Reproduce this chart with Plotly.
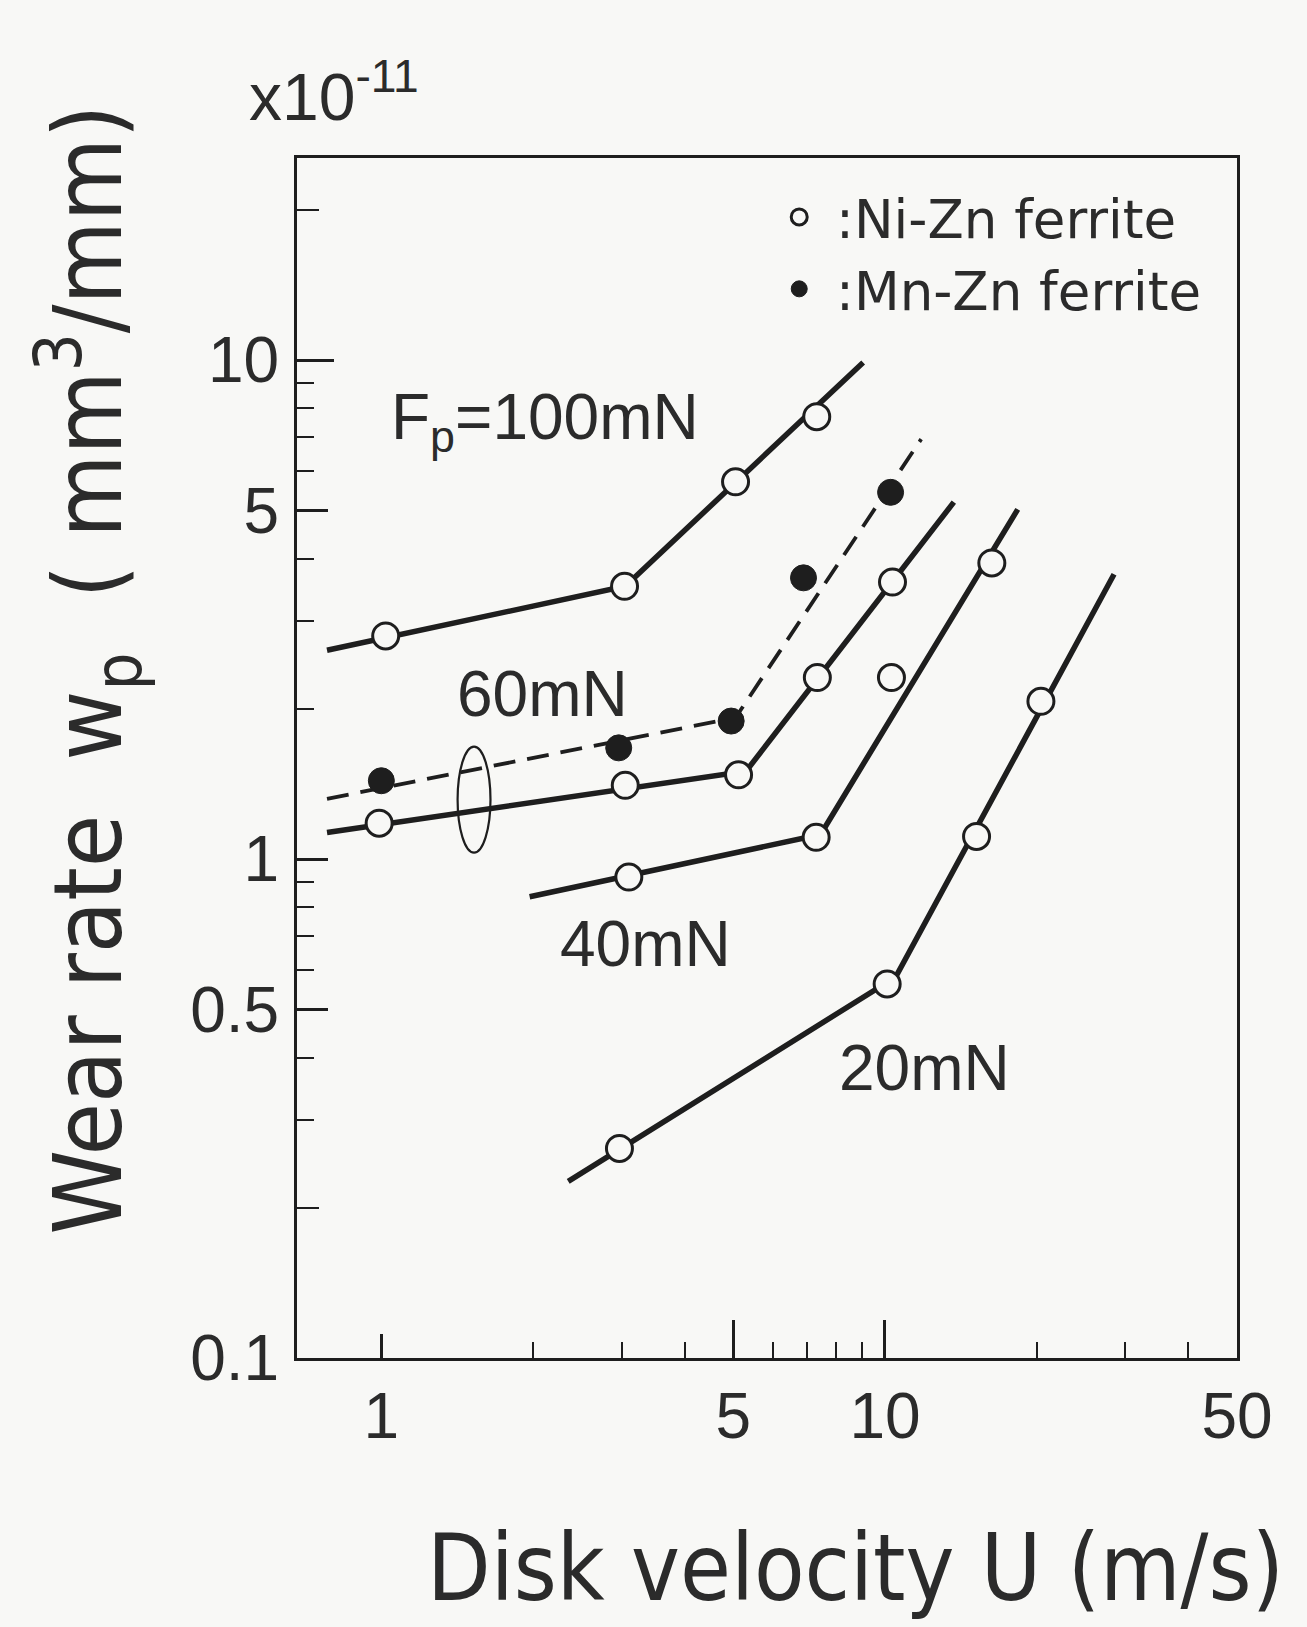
import math
import plotly.graph_objects as go

# ---------------- data ----------------
# fitted guide lines (vertices of the drawn polylines)
line100_x = [0.78, 3.05, 9.05]
line100_y = [2.62, 3.52, 9.89]
line60mn_x = [0.78, 5.05, 11.8]
line60mn_y = [1.32, 1.92, 6.94]
line60ni_x = [0.78, 5.3, 13.7]
line60ni_y = [1.13, 1.50, 5.19]
line40_x = [1.97, 7.45, 18.35]
line40_y = [0.84, 1.12, 5.02]
line20_x = [2.35, 10.5, 28.5]
line20_y = [0.226, 0.58, 3.72]

# measured points
ni100_x = [1.02, 3.04, 5.05, 7.32]
ni100_y = [2.80, 3.52, 5.70, 7.70]
mn60_x = [1.0, 2.96, 4.95, 6.89, 10.26]
mn60_y = [1.435, 1.67, 1.89, 3.66, 5.43]
ni60_x = [0.99, 3.05, 5.12, 7.34, 10.35]
ni60_y = [1.18, 1.405, 1.475, 2.31, 3.59]
ni40_x = [3.10, 7.30, 10.3, 16.3]
ni40_y = [0.92, 1.105, 2.31, 3.92]
ni20_x = [2.97, 10.1, 15.2, 20.4]
ni20_y = [0.263, 0.562, 1.11, 2.07]

# load labels: text, x, y
load_labels = ["F<sub>p</sub>=100mN", "60mN", "40mN", "20mN"]
load_label_x = [2.11, 2.09, 3.34, 11.98]
load_label_y = [7.55, 2.14, 0.676, 0.381]

# ellipse grouping the two 60 mN curves (x0, x1, y0, y1)
ellipse_x = [1.417, 1.647]
ellipse_y = [1.03, 1.68]

# axis ticks
x_major = [1, 5, 10, 50]
x_major_text = ["1", "5", "10", "50"]
x_long = [5, 10]
x_minor = [2, 3, 4, 6, 7, 8, 9, 20, 30, 40]
y_major = [0.1, 0.5, 1, 5, 10]
y_major_text = ["0.1", "0.5", "1", "5", "10"]
y_long = [10]
y_mid = [0.2, 20]
y_minor = [0.2, 0.3, 0.4, 0.6, 0.7, 0.8, 0.9, 2, 3, 4, 6, 7, 8, 9, 20]

x_range = [0.68, 50]
y_range = [0.1, 25.4]

# ---------------- styling ----------------
INK = "#1e1e1e"
TXT = "#2b2b2b"
BG = "#f8f8f6"
NARROW = "DejaVu Sans Condensed, Liberation Sans, sans-serif"
SANS = "Liberation Sans, Arial, sans-serif"
WIDE = "DejaVu Sans, Liberation Sans, sans-serif"

fig = go.Figure()

solid = dict(color=INK, width=5.5)
for lx, ly in [(line100_x, line100_y), (line60ni_x, line60ni_y),
               (line40_x, line40_y), (line20_x, line20_y)]:
    fig.add_trace(go.Scatter(x=lx, y=ly, mode="lines", line=solid,
                             showlegend=False, hoverinfo="skip"))
fig.add_trace(go.Scatter(x=line60mn_x, y=line60mn_y, mode="lines",
                         line=dict(color=INK, width=3.8, dash="22px,12px"),
                         showlegend=False, hoverinfo="skip"))

open_marker = dict(symbol="circle", size=26, color=BG, line=dict(color=INK, width=3))
first = True
for px, py in [(ni100_x, ni100_y), (ni60_x, ni60_y), (ni40_x, ni40_y), (ni20_x, ni20_y)]:
    fig.add_trace(go.Scatter(x=px, y=py, mode="markers", marker=open_marker,
                             name=" :Ni-Zn ferrite", legendgroup="ni",
                             showlegend=first))
    first = False
fig.add_trace(go.Scatter(x=mn60_x, y=mn60_y, mode="markers",
                         marker=dict(symbol="circle", size=26, color=INK,
                                     line=dict(color=INK, width=1)),
                         name=" :Mn-Zn ferrite", legendgroup="mn", showlegend=True))

# invisible traces to activate the overlay axes used for longer ticks
fig.add_trace(go.Scatter(x=[None], y=[None], xaxis="x2", yaxis="y2",
                         showlegend=False, hoverinfo="skip"))
fig.add_trace(go.Scatter(x=[None], y=[None], xaxis="x", yaxis="y3",
                         showlegend=False, hoverinfo="skip"))

lx_range = [math.log10(v) for v in x_range]
ly_range = [math.log10(v) for v in y_range]

fig.update_layout(
    width=1307, height=1627,
    margin=dict(l=297, r=70, t=158, b=269),
    paper_bgcolor=BG, plot_bgcolor=BG,
    font=dict(family=SANS, color=TXT),
    xaxis=dict(type="log", range=lx_range, tickmode="array",
               tickvals=x_major, ticktext=x_major_text,
               ticks="inside", ticklen=24, tickwidth=2.5, tickcolor=INK,
               showline=True, linewidth=3, linecolor=INK, mirror=True,
               showgrid=False, zeroline=False,
               tickfont=dict(size=64, family=SANS, color=TXT),
               ticklabelstandoff=0,
               minor=dict(tickmode="array", tickvals=x_minor, ticks="inside",
                          ticklen=16, tickwidth=2.2, tickcolor=INK, showgrid=False)),
    xaxis2=dict(type="log", range=lx_range, overlaying="x", anchor="y", side="bottom",
                tickmode="array", tickvals=x_long, ticks="inside", ticklen=38,
                tickwidth=2.5, tickcolor=INK, showticklabels=False,
                showline=False, showgrid=False, zeroline=False),
    yaxis=dict(type="log", range=ly_range, tickmode="array",
               tickvals=y_major, ticktext=y_major_text,
               ticks="inside", ticklen=31, tickwidth=2.5, tickcolor=INK,
               showline=True, linewidth=3, linecolor=INK, mirror=True,
               showgrid=False, zeroline=False,
               tickfont=dict(size=64, family=SANS, color=TXT),
               ticklabelstandoff=2,
               minor=dict(tickmode="array", tickvals=y_minor, ticks="inside",
                          ticklen=17, tickwidth=2.2, tickcolor=INK, showgrid=False)),
    yaxis2=dict(type="log", range=ly_range, overlaying="y", anchor="x", side="left",
                tickmode="array", tickvals=y_long, ticks="inside", ticklen=37,
                tickwidth=2.5, tickcolor=INK, showticklabels=False,
                showline=False, showgrid=False, zeroline=False),
    yaxis3=dict(type="log", range=ly_range, overlaying="y", anchor="x", side="left",
                tickmode="array", tickvals=y_mid, ticks="inside", ticklen=22,
                tickwidth=2.2, tickcolor=INK, showticklabels=False,
                showline=False, showgrid=False, zeroline=False),
    legend=dict(x=0.513, y=0.985, xanchor="left", yanchor="top",
                bgcolor="rgba(0,0,0,0)", font=dict(size=53, family=WIDE, color=TXT),
                itemsizing="trace", tracegroupgap=0),
    showlegend=True,
)

fig.add_shape(type="circle", xref="x", yref="y",
              x0=ellipse_x[0], x1=ellipse_x[1], y0=ellipse_y[0], y1=ellipse_y[1],
              line=dict(color=INK, width=2.2))

for t, x, y in zip(load_labels, load_label_x, load_label_y):
    fig.add_annotation(x=math.log10(x), y=math.log10(y), xref="x", yref="y",
                       text=t, showarrow=False,
                       font=dict(size=64, family=SANS, color=TXT))

fig.add_annotation(xref="paper", yref="paper", x=-0.222, y=0.574,
                   xanchor="center", yanchor="middle",
                   text="Wear rate  w<sub>p</sub>  ( mm<sup>3</sup>/mm)",
                   textangle=-90, showarrow=False,
                   font=dict(size=95, family=NARROW, color=TXT))
fig.add_annotation(xref="paper", yref="paper", x=1.052, y=-0.175,
                   xanchor="right", yanchor="middle",
                   text="Disk velocity U (m/s)", showarrow=False,
                   font=dict(size=92, family=NARROW, color=TXT))
fig.add_annotation(xref="paper", yref="paper", x=-0.053, y=1.055,
                   xanchor="left", yanchor="middle",
                   text="x10<sup>-11</sup>", showarrow=False,
                   font=dict(size=66, family=SANS, color=TXT))

fig.write_html("out.html")
